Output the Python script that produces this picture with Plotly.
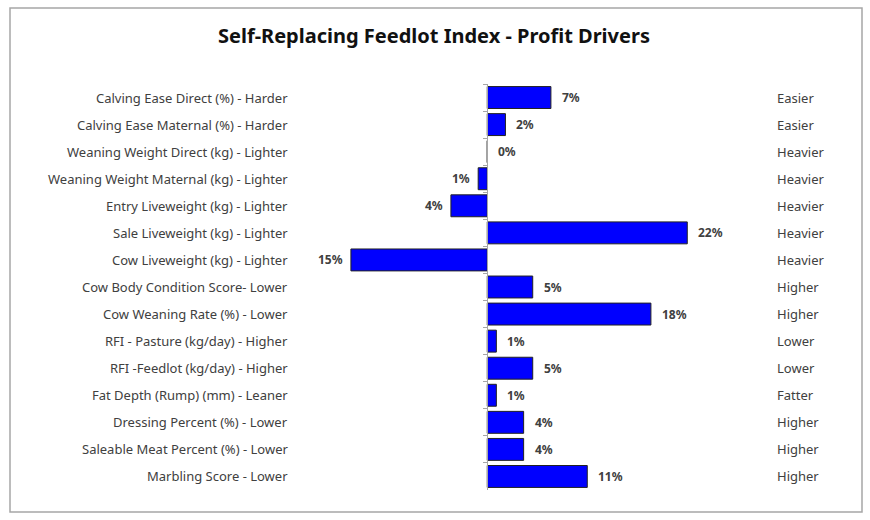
import plotly.graph_objects as go

traits = [
    "Calving Ease Direct (%) - Harder",
    "Calving Ease Maternal (%) - Harder",
    "Weaning Weight Direct (kg) - Lighter",
    "Weaning Weight Maternal (kg) - Lighter",
    "Entry Liveweight (kg) - Lighter",
    "Sale Liveweight (kg) - Lighter",
    "Cow Liveweight (kg) - Lighter",
    "Cow Body Condition Score- Lower",
    "Cow Weaning Rate (%) - Lower",
    "RFI - Pasture (kg/day) - Higher",
    "RFI -Feedlot (kg/day) - Higher",
    "Fat Depth (Rump) (mm) - Leaner",
    "Dressing Percent (%) - Lower",
    "Saleable Meat Percent (%) - Lower",
    "Marbling Score - Lower",
]
values = [7, 2, 0, -1, -4, 22, -15, 5, 18, 1, 5, 1, 4, 4, 11]
right_labels = ["Easier", "Easier", "Heavier", "Heavier", "Heavier", "Heavier", "Heavier",
                "Higher", "Higher", "Lower", "Lower", "Fatter", "Higher", "Higher", "Higher"]

FONT = "Noto Sans"
GREY = "#404040"
xmin, xmax = -20.6, 30.0

fig = go.Figure()
fig.add_trace(go.Bar(
    x=values, y=traits, orientation="h",
    marker=dict(color="#0000FF", line=dict(color="#222222", width=1)),
    hoverinfo="skip",
))

ann = []
for t, v, r in zip(traits, values, right_labels):
    ann.append(dict(x=v, y=t, xref="x", yref="y", text=f"<b>{abs(v)}%</b>",
                    showarrow=False, xanchor="right" if v < 0 else "left",
                    xshift=-6 if v < 0 else 9,
                    font=dict(family=FONT, size=12, color=GREY)))
    ann.append(dict(x=-0.0217, y=t, xref="paper", yref="y", text=t, showarrow=False,
                    xanchor="right", font=dict(family=FONT, size=13, color=GREY)))
    ann.append(dict(x=1.0326, y=t, xref="paper", yref="y", text=r, showarrow=False,
                    xanchor="left", font=dict(family=FONT, size=13, color=GREY)))
ann.append(dict(x=(434 - 300) / 460, y=(490 - 35) / 406, xref="paper", yref="paper",
                text="<b>Self-Replacing Feedlot Index - Profit Drivers</b>", showarrow=False,
                xanchor="center", yanchor="middle",
                font=dict(family=FONT, size=20, color="#111111")))

fig.update_layout(
    width=870, height=520,
    margin=dict(l=300, r=110, t=84, b=30),
    paper_bgcolor="white", plot_bgcolor="white",
    showlegend=False, bargap=0.19,
    annotations=ann,
    xaxis=dict(range=[xmin, xmax], showgrid=False, zeroline=False, showticklabels=False,
               showline=False, fixedrange=True),
    yaxis=dict(type="category", autorange="reversed", showgrid=False, showticklabels=False,
               showline=True, linecolor="#a6a6a6", linewidth=1,
               ticks="outside", tickson="boundaries", ticklen=4, tickcolor="#a6a6a6",
               anchor="free", position=-xmin / (xmax - xmin), fixedrange=True),
    shapes=[dict(type="rect", xref="paper", yref="paper",
                 x0=(10 - 300) / 460, x1=(862 - 300) / 460,
                 y0=(490 - 512) / 406, y1=(490 - 8) / 406,
                 line=dict(color="#a6a6a6", width=1.5))],
)

fig.write_html("out.html", config={"displayModeBar": False},
               post_script="document.body.style.margin='0px';")
